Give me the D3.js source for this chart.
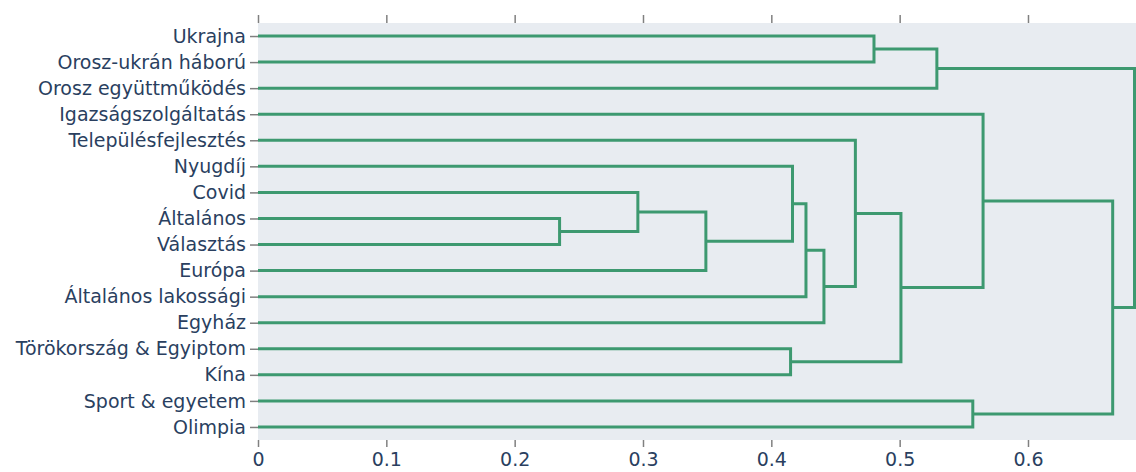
<!DOCTYPE html>
<html>
<head>
<meta charset="utf-8">
<script src="https://cdn.jsdelivr.net/npm/d3@7"></script>
<style>
  body { margin: 0; background: #fff; }
  svg { display: block; }
  text { font-family: "DejaVu Sans", Verdana, sans-serif; }
</style>
</head>
<body>
<svg width="1136" height="472"></svg>
<script>
const width = 1136;
const height = 472;

// leaves, top to bottom
const leaves = [
    "Ukrajna",
    "Orosz-ukrán háború",
    "Orosz együttműködés",
    "Igazságszolgáltatás",
    "Településfejlesztés",
    "Nyugdíj",
    "Covid",
    "Általános",
    "Választás",
    "Európa",
    "Általános lakossági",
    "Egyház",
    "Törökország & Egyiptom",
    "Kína",
    "Sport & egyetem",
    "Olimpia"
];

// merges: ids 0-15 are leaves, merge i gets id 16 + i
const mergeLeft   = [7, 6, 17, 12, 5, 20, 21, 4, 0, 23, 24, 14, 3, 28, 26];
const mergeRight  = [8, 16, 9, 13, 18, 10, 11, 22, 1, 19, 2, 15, 25, 27, 29];
const mergeHeight = [0.235, 0.296, 0.349, 0.415, 0.4165, 0.427, 0.441, 0.4655, 0.480, 0.501, 0.529, 0.557, 0.565, 0.666, 0.683];

const xTicks = [0, 0.1, 0.2, 0.3, 0.4, 0.5, 0.6];

const margin = {top: 23, right: 0, bottom: 32, left: 258};
const plotW = width - margin.left - margin.right;
const plotH = height - margin.top - margin.bottom;

const svg = d3.select("svg");
const g = svg.append("g").attr("transform", `translate(${margin.left},${margin.top})`);

const x = d3.scaleLinear()
    .domain([0, d3.max(mergeHeight)])
    .range([0, plotW - 1.5]);

const y = d3.scalePoint()
    .domain(leaves)
    .range([0, plotH])
    .padding(0.5);

g.append("rect")
    .attr("width", plotW)
    .attr("height", plotH)
    .attr("fill", "#E8ECF1");

// node positions
const nodeX = [], nodeY = [];
leaves.forEach((d, i) => { nodeX[i] = 0; nodeY[i] = y(d); });
mergeHeight.forEach((h, i) => {
    const id = leaves.length + i;
    nodeX[id] = h;
    nodeY[id] = (nodeY[mergeLeft[i]] + nodeY[mergeRight[i]]) / 2;
});

const links = mergeHeight.map((h, i) => {
    const a = mergeLeft[i], b = mergeRight[i];
    return [[nodeX[a], nodeY[a]], [h, nodeY[a]], [h, nodeY[b]], [nodeX[b], nodeY[b]]];
});

const line = d3.line().x(d => x(d[0])).y(d => d[1]);

g.selectAll("path.link")
    .data(links)
    .join("path")
    .attr("class", "link")
    .attr("d", line)
    .attr("fill", "none")
    .attr("stroke", "#3D9970")
    .attr("stroke-width", 3);

// axes
const fmt = d => d === 0 ? "0" : d3.format(".1f")(d);

const xBottom = g.append("g")
    .attr("transform", `translate(0,${plotH})`)
    .call(d3.axisBottom(x).tickValues(xTicks).tickFormat(fmt).tickSize(7).tickPadding(6));

const xTop = g.append("g")
    .call(d3.axisTop(x).tickValues(xTicks).tickFormat("").tickSize(8));

const yLeft = g.append("g")
    .call(d3.axisLeft(y).tickSize(8).tickPadding(4));

[xBottom, xTop, yLeft].forEach(ax => {
    ax.select(".domain").remove();
    ax.selectAll(".tick line").attr("stroke", "#808080").attr("stroke-width", 1.5);
    ax.selectAll(".tick text")
        .attr("fill", "#2a3f5f")
        .style("font-size", "19px")
        .style("font-family", "'DejaVu Sans', Verdana, sans-serif");
});
</script>
</body>
</html>
